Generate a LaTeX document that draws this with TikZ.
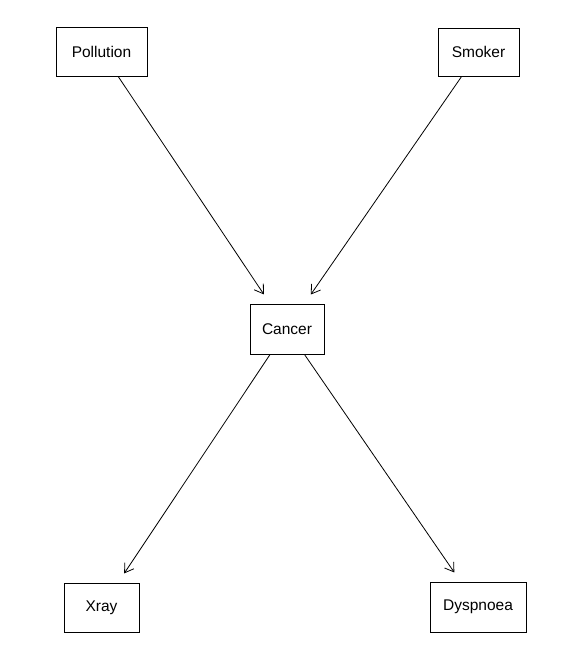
\documentclass[tikz,border=0pt]{standalone}
\usepackage{fontspec}
\setmainfont{Liberation Sans}
\usetikzlibrary{arrows.meta}
\begin{document}
\begin{tikzpicture}[x=1pt,y=-1pt,
  var/.style={draw=black, line width=0.9pt, inner sep=0pt, font=\fontsize{15.5}{18}\selectfont},
  link/.style={draw=black, line width=0.8pt, shorten >=11pt, -{Straight Barb[length=8.5pt,width=11pt,line width=0.8pt]}}]
\useasboundingbox (0,0) rectangle (561,659);
\node[var, minimum width=91pt, minimum height=49pt] (pol) at (101.5,51.5) {Pollution};
\node[var, minimum width=81pt, minimum height=48pt] (smo) at (478.5,52) {Smoker};
\node[var, minimum width=74pt, minimum height=50pt] (can) at (287,329) {Cancer};
\node[var, minimum width=75pt, minimum height=49pt] (xra) at (101.5,607.5) {Xray};
\node[var, minimum width=96pt, minimum height=50pt] (dys) at (478,607) {Dyspnoea};
\draw[link] (pol) -- (can);
\draw[link] (smo) -- (can);
\draw[link] (can) -- (xra);
\draw[link] (can) -- (dys);
\end{tikzpicture}
\end{document}
